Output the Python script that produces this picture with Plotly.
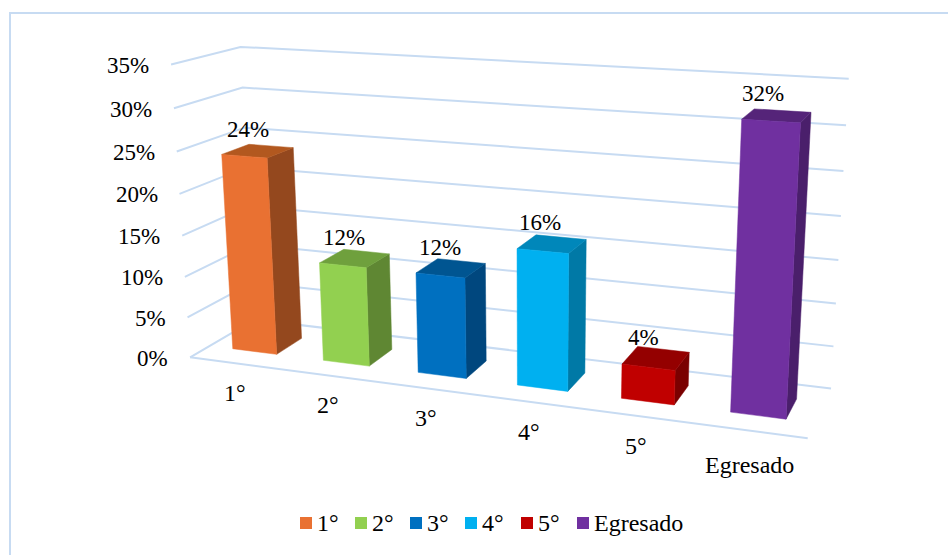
import numpy as np
import plotly.graph_objects as go

categories = ["1°", "2°", "3°", "4°", "5°", "Egresado"]
values = [24, 12, 12, 16, 4, 32]
ticks = [0, 5, 10, 15, 20, 25, 30, 35]
front_colors = ["#E97132", "#92D050", "#0070C0", "#00B0F0", "#C00000", "#7030A0"]
side_colors = ["#94481E", "#5F8733", "#00477E", "#0079A6", "#7A0000", "#4A1F6B"]
top_colors = ["#B2581F", "#6FA03D", "#005591", "#0087BA", "#940000", "#552479"]

GRID = "#C7DBF2"
FONT = "Liberation Serif"

# Calibration of the chart's 3D box (category, depth, value) -> page pixel
calib = [
    ((0, 0, 0), (189, 357)), ((6, 0, 0), (808, 438)), ((0, 1, 0), (256, 320)),
    ((6, 1, 0), (831, 389)), ((0, 0, 35), (172, 65)), ((0, 1, 35), (240, 47)),
    ((6, 1, 35), (849, 79)), ((0, 1, 30), (242, 87)), ((6, 1, 30), (846, 125)),
    ((6, 1, 5), (833, 346)),
]
A = []
for (X, Y, Z), (u, v) in calib:
    A.append([X, Y, Z, 1, 0, 0, 0, 0, -u * X, -u * Y, -u * Z, -u])
    A.append([0, 0, 0, 0, X, Y, Z, 1, -v * X, -v * Y, -v * Z, -v])
P = np.linalg.svd(np.array(A, float))[2][-1].reshape(3, 4)


def proj(x, d, z):
    h = P @ np.array([x, d, z, 1.0])
    return float(h[0] / h[2]), float(h[1] / h[2])


def poly(points, color, line=None, width=0):
    pts = [proj(*p) for p in points]
    return go.Scatter(
        x=[p[0] for p in pts], y=[p[1] for p in pts], mode="lines",
        line=dict(color=line or color, width=width or 0.5), fill="toself" if line is None else "none",
        fillcolor=color, hoverinfo="skip", showlegend=False,
    )


fig = go.Figure()
n = len(categories)
for t in ticks:
    fig.add_trace(poly([(0, 0, t), (0, 1, t), (n, 1, t)], GRID, GRID, 2))
fig.add_trace(poly([(0, 0, 0), (n, 0, 0)], GRID, GRID, 2))

X0, X1, D0, D1 = 0.26, 0.75, 0.29, 0.70
for i, val in enumerate(values):
    a, b = i + X0, i + X1
    fig.add_trace(poly([(b, D0, 0), (b, D1, 0), (b, D1, val), (b, D0, val), (b, D0, 0)], side_colors[i]))
    fig.add_trace(poly([(a, D0, val), (b, D0, val), (b, D1, val), (a, D1, val), (a, D0, val)], top_colors[i]))
    fig.add_trace(poly([(a, D0, 0), (b, D0, 0), (b, D0, val), (a, D0, val), (a, D0, 0)], front_colors[i]))

annotations = []


def label(x, y, text, anchor="center", size=23):
    annotations.append(dict(x=x, y=y, text=text, showarrow=False, xanchor=anchor, yanchor="middle",
                            xref="x", yref="y", font=dict(family=FONT, size=size, color="#000000")))


for t in ticks:
    x, y = proj(0, 0, t)
    label(x - 20, y + 1, f"{t}%", "right")
for i, val in enumerate(values):
    x, y = proj(i + 0.5, 0.6, val)
    label(x - 16, y - 15 - 5 * val / 32, f"{val}%")
for i, c in enumerate(categories):
    x, y = proj(i + 0.5, 0, 0)
    label(x, y + (35 if len(c) > 2 else 30), c, size=24)

legend_x = [306, 361, 416, 471, 527, 583]
fig.add_trace(go.Scatter(x=legend_x, y=[523] * n, mode="markers",
                         marker=dict(symbol="square", size=12, color=front_colors, line=dict(width=0)),
                         hoverinfo="skip", showlegend=False))
for lx, c in zip(legend_x, categories):
    label(lx + 9, 523, c, "left", 24)

fig.update_layout(
    width=948, height=555, margin=dict(l=0, r=0, t=0, b=0), autosize=False,
    paper_bgcolor="white", plot_bgcolor="white", annotations=annotations,
    xaxis=dict(range=[0, 948], visible=False, fixedrange=True),
    yaxis=dict(range=[555, 0], visible=False, fixedrange=True),
    shapes=[dict(type="rect", xref="x", yref="y", x0=10, y0=13, x1=960, y1=570,
                 line=dict(color=GRID, width=2), layer="below")],
)
fig.write_html("out.html", config={"displayModeBar": False},
               post_script="document.body.style.margin='0';document.body.style.overflow='hidden';")
